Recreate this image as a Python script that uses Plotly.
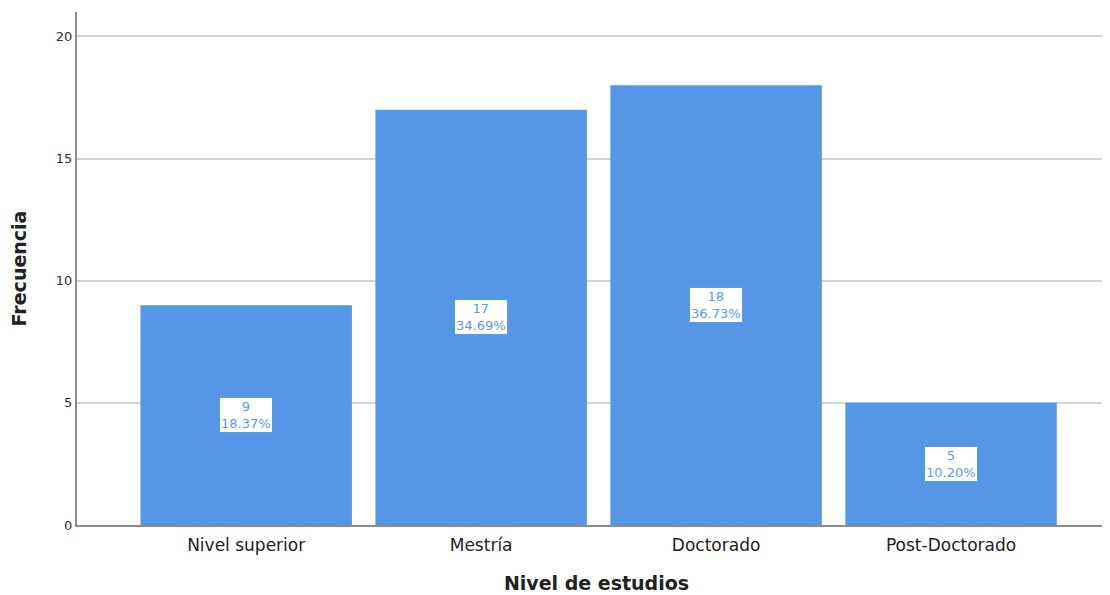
import plotly.graph_objects as go

categories = ["Nivel superior", "Mestría", "Doctorado", "Post-Doctorado"]
counts = [9, 17, 18, 5]
percents = ["18.37%", "34.69%", "36.73%", "10.20%"]
y_ticks = [0, 5, 10, 15, 20]

bar_color = "#5596E6"
label_color = "#5B9BEA"

fig = go.Figure()
fig.add_trace(go.Bar(
    x=categories, y=counts, width=0.9,
    marker=dict(color=bar_color, line=dict(width=0)),
    hoverinfo="skip",
))

for c, v, p in zip(categories, counts, percents):
    fig.add_annotation(
        x=c, y=v / 2, text=f"{v}<br>{p}", showarrow=False,
        font=dict(family="DejaVu Sans", size=13, color=label_color),
        bgcolor="white", bordercolor=label_color, borderwidth=1, borderpad=1,
        align="center",
    )

fig.update_layout(
    width=1110, height=595,
    margin=dict(l=69, r=2, t=4, b=78),
    paper_bgcolor="white", plot_bgcolor="white",
    showlegend=False,
    font=dict(family="DejaVu Sans", color="#222222"),
)
fig.update_xaxes(
    range=[-0.72, 3.702],
    showline=True, linecolor="#8c8c8c", linewidth=2,
    ticks="outside", ticklen=4, tickcolor="rgba(0,0,0,0)",
    tickfont=dict(size=17, color="#222222"),
    title=dict(text="<b>Nivel de estudios</b>", font=dict(size=19, color="#222222"), standoff=22),
    showgrid=False, zeroline=False,
)
fig.update_yaxes(
    range=[0, 21], tickvals=y_ticks,
    showline=True, linecolor="#8c8c8c", linewidth=2,
    showgrid=True, gridcolor="#d4d4d4", gridwidth=1.5,
    ticks="", tickfont=dict(size=13, color="#333333"),
    title=dict(text="<b>Frecuencia</b>", font=dict(size=19, color="#222222"), standoff=26),
    zeroline=False,
)

fig.write_html("out.html")
